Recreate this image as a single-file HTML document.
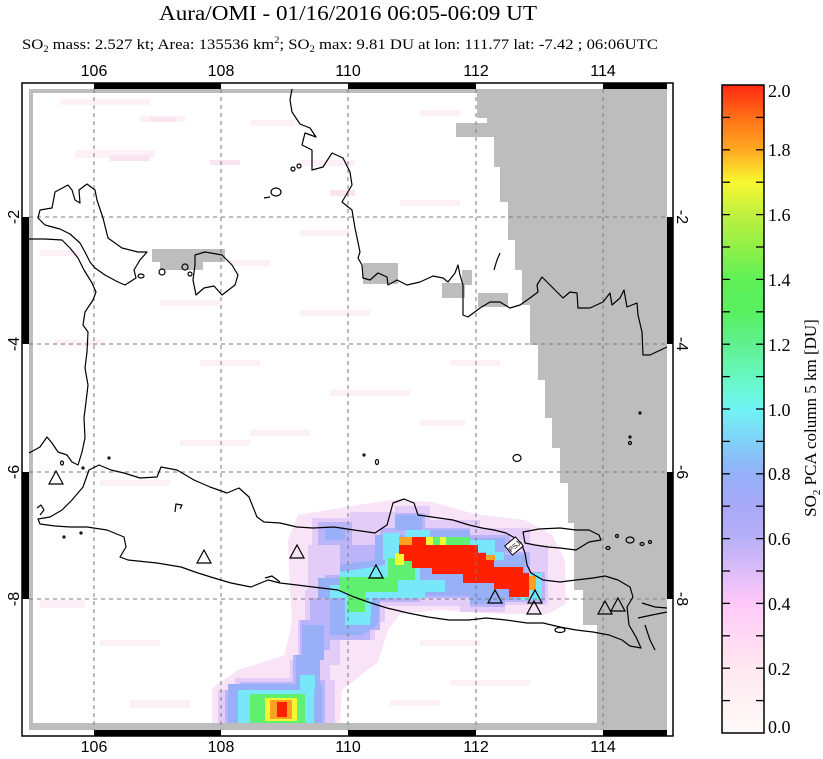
<!DOCTYPE html>
<html><head><meta charset="utf-8"><style>
html,body{margin:0;padding:0;background:#fff;}
svg{display:block;}
</style></head><body>
<svg width="823" height="759" viewBox="0 0 823 759" xmlns="http://www.w3.org/2000/svg">
<defs>
<linearGradient id="cb" x1="0" y1="1" x2="0" y2="0">
<stop offset="0" stop-color="#fffafa"/>
<stop offset="0.1" stop-color="#ffe8f0"/>
<stop offset="0.2" stop-color="#ffc8f8"/>
<stop offset="0.25" stop-color="#dcbcf8"/>
<stop offset="0.3" stop-color="#b8b0f8"/>
<stop offset="0.35" stop-color="#a8a8f8"/>
<stop offset="0.4" stop-color="#94b0f8"/>
<stop offset="0.45" stop-color="#80d0f8"/>
<stop offset="0.5" stop-color="#70f4f4"/>
<stop offset="0.55" stop-color="#68f8c0"/>
<stop offset="0.6" stop-color="#60f090"/>
<stop offset="0.65" stop-color="#58f060"/>
<stop offset="0.7" stop-color="#60f058"/>
<stop offset="0.75" stop-color="#90f048"/>
<stop offset="0.8" stop-color="#c0f040"/>
<stop offset="0.85" stop-color="#f8f830"/>
<stop offset="0.9" stop-color="#ffa820"/>
<stop offset="0.95" stop-color="#ff7018"/>
<stop offset="1" stop-color="#ff2810"/>
</linearGradient>
</defs>

<!-- Title -->
<text x="348" y="20" text-anchor="middle" font-family="Liberation Serif, serif" font-size="21" textLength="378" lengthAdjust="spacingAndGlyphs">Aura/OMI - 01/16/2016 06:05-06:09 UT</text>
<text x="22" y="49" font-family="Liberation Serif, serif" font-size="14.5" textLength="636" lengthAdjust="spacingAndGlyphs">SO<tspan font-size="9" dy="3">2</tspan><tspan dy="-3"> mass: 2.527 kt; Area: 135536 km</tspan><tspan font-size="9" dy="-6">2</tspan><tspan dy="6">; SO</tspan><tspan font-size="9" dy="3">2</tspan><tspan dy="-3"> max: 9.81 DU at lon: 111.77 lat: -7.42 ; 06:06UTC</tspan></text>

<!-- Map background -->
<rect x="29" y="89" width="638" height="641" fill="#bdbdbd"/>
<rect x="33" y="93" width="634" height="630" fill="#ffffff"/>

<!-- faint pink streaks -->
<g fill="#fdf0f6">
<rect x="60" y="99" width="90" height="6"/><rect x="140" y="116" width="45" height="6"/>
<rect x="75" y="150" width="80" height="8"/><rect x="250" y="120" width="45" height="6"/>
<rect x="300" y="160" width="55" height="6"/><rect x="400" y="200" width="60" height="6"/>
<rect x="160" y="300" width="60" height="6"/><rect x="300" y="310" width="70" height="6"/>
<rect x="55" y="340" width="50" height="6"/><rect x="200" y="360" width="60" height="6"/>
<rect x="330" y="390" width="80" height="6"/><rect x="250" y="430" width="60" height="6"/>
<rect x="420" y="420" width="45" height="6"/><rect x="100" y="480" width="70" height="6"/>
<rect x="180" y="440" width="70" height="6"/><rect x="450" y="360" width="50" height="6"/>
<rect x="40" y="600" width="45" height="8"/><rect x="420" y="640" width="60" height="6"/>
<rect x="450" y="680" width="80" height="6"/><rect x="100" y="640" width="60" height="6"/>
<rect x="130" y="700" width="60" height="8"/><rect x="390" y="700" width="50" height="6"/>
<rect x="40" y="250" width="40" height="6"/><rect x="300" y="230" width="50" height="6"/>
<rect x="420" y="110" width="40" height="6"/><rect x="230" y="260" width="40" height="6"/>
</g>
<g fill="#fae4f0">
<rect x="110" y="155" width="40" height="6"/><rect x="150" y="117" width="25" height="5"/>
<rect x="330" y="190" width="25" height="6"/><rect x="210" y="160" width="30" height="5"/>
</g>

<!-- Gray no-data regions -->
<g fill="#bdbdbd">
<polygon points="477,89 667,89 667,730 597,730 597,625 583,625 583,590 574,590 574,523 568,523 568,483 560,483 560,448 552,448 552,418 545,418 545,380 538,380 538,345 530,345 530,305 522,305 522,270 515,270 515,240 508,240 508,202 500,202 500,167 494,167 494,137 487,137 487,118 477,118"/>
<rect x="456" y="123" width="31" height="14"/>
<rect x="152" y="249" width="73" height="13"/>
<rect x="160" y="262" width="43" height="8"/>
<rect x="363" y="263" width="35" height="21"/>
<rect x="462" y="270" width="10" height="15"/>
<rect x="442" y="283" width="23" height="15"/>
<rect x="478" y="293" width="30" height="14"/>
</g>

<!-- Plume layers -->
<polygon fill="#f8e4f6" points="298,515 340,508 390,500 432,502 475,514 525,520 552,535 565,560 566,604 548,614 500,614 440,610 400,614 388,630 378,662 342,690 340,723 212,723 212,688 238,670 285,655 292,620 290,590 288,540"/>
<polygon fill="#e4ccf8" points="312,518 350,518 350,512 395,512 395,506 430,506 430,520 480,520 480,528 530,528 530,545 548,545 548,605 505,605 505,612 460,612 460,606 385,606 385,622 375,622 375,640 340,640 340,665 330,665 330,680 335,680 335,723 218,723 218,690 235,690 235,678 290,678 290,660 298,660 298,620 305,620 305,590 308,590 308,545 312,545"/>
<rect x="318" y="522" width="34" height="23" fill="#bcb4f8"/>
<polygon fill="#bcb4f8" points="340,545 380,545 380,528 395,528 395,513 425,513 425,528 470,528 470,535 510,535 510,552 530,552 530,572 545,572 545,602 505,602 505,607 470,607 470,598 420,598 420,602 380,602 380,630 370,630 370,640 330,640 330,650 320,650 320,680 325,680 325,723 225,723 225,690 240,690 240,682 293,682 293,655 300,655 300,620 310,620 310,598 325,598 325,575 340,575"/>
<g fill="#98b0f8">
<rect x="395" y="515" width="27" height="15"/>
<rect x="325" y="527" width="20" height="13"/>
<polygon points="375,535 420,535 420,530 470,530 470,538 505,538 505,555 525,555 525,572 540,572 540,600 505,600 505,604 470,604 470,596 420,596 380,600 378,625 362,635 330,635 330,598 318,598 318,578 340,578 340,565 375,560"/>
<rect x="302" y="625" width="22" height="35"/>
<rect x="296" y="655" width="24" height="30"/>
<rect x="228" y="684" width="94" height="39"/>
</g>
<g fill="#78e8f8">
<rect x="383" y="533" width="17" height="27"/>
<rect x="405" y="530" width="25" height="8"/>
<polygon points="340,572 385,565 385,560 420,560 420,580 445,580 445,592 425,592 425,598 372,598 370,625 345,625 345,598 330,598 330,585 340,585"/>
<rect x="470" y="540" width="25" height="12"/>
<rect x="486" y="552" width="18" height="8"/>
<rect x="520" y="573" width="22" height="27"/>
<rect x="238" y="690" width="76" height="33"/>
<rect x="300" y="675" width="15" height="15"/>
</g>
<g fill="#60f070">
<rect x="340" y="577" width="58" height="15"/>
<rect x="348" y="590" width="17" height="22"/>
<rect x="388" y="558" width="27" height="22"/>
<rect x="426" y="537" width="44" height="8"/>
<rect x="250" y="694" width="55" height="29"/>
<rect x="350" y="583" width="12" height="22"/>
</g>
<g fill="#f0f830">
<rect x="426" y="537" width="7" height="8"/>
<rect x="395" y="553" width="9" height="12"/>
<rect x="265" y="698" width="32" height="23"/>
<rect x="440" y="537" width="6" height="8"/>
</g>
<g fill="#ffa020">
<rect x="399" y="537" width="13" height="8"/>
<rect x="527" y="576" width="9" height="14"/>
<rect x="270" y="700" width="22" height="19"/>
<rect x="486" y="555" width="9" height="6"/>
</g>
<g fill="#ff2000">
<rect x="412" y="537" width="14" height="9"/>
<rect x="399" y="545" width="79" height="9"/>
<rect x="404" y="553" width="82" height="8"/>
<rect x="412" y="560" width="82" height="8"/>
<rect x="432" y="567" width="91" height="7"/>
<rect x="463" y="573" width="66" height="10"/>
<rect x="494" y="582" width="35" height="7"/>
<rect x="509" y="588" width="20" height="9"/>
<rect x="277" y="702" width="10" height="15"/>
</g>

<!-- Grid lines -->
<g stroke="#7a7a7a" stroke-width="1" stroke-dasharray="4 4" fill="none">
<line x1="94" y1="89" x2="94" y2="730"/>
<line x1="221" y1="89" x2="221" y2="730"/>
<line x1="348" y1="89" x2="348" y2="730"/>
<line x1="476" y1="89" x2="476" y2="730"/>
<line x1="603" y1="89" x2="603" y2="730"/>
<line x1="29" y1="217" x2="667" y2="217"/>
<line x1="29" y1="344" x2="667" y2="344"/>
<line x1="29" y1="472" x2="667" y2="472"/>
<line x1="29" y1="599" x2="667" y2="599"/>
</g>

<!-- Coastlines -->
<g stroke="#000" stroke-width="1.2" fill="none" stroke-linejoin="round">
<polygon points="38,218 40,210 52,208 55,192 68,185 72,190 75,200 80,203 79,190 87,184 95,190 97,200 103,218 108,238 122,248 138,252 147,252 140,260 134,270 136,278 125,285 118,282 105,275 95,268 90,262 85,252 80,243 70,234 60,229 45,225"/>
<polyline points="29,239 45,239 62,240 70,248 78,258 84,270 92,283 96,292 93,300 85,312 83,325 88,332 87,352 85,368 88,385 86,402 84,418 85,438 82,452 78,465 72,462 67,455 58,452 52,443 47,437 40,447 29,453"/>
<polygon points="195,255 205,252 222,255 232,265 238,275 235,285 222,295 214,286 204,288 196,295 193,280 195,265"/>
<ellipse cx="162" cy="272" rx="3" ry="3"/>
<ellipse cx="141" cy="276" rx="3" ry="2"/>
<ellipse cx="185" cy="267" rx="3" ry="3"/>
<ellipse cx="190" cy="274" rx="2" ry="2"/>
<polyline points="292,89 290,100 292,112 300,124 310,128 316,137 305,133 302,145 312,150 312,170 323,167 332,153 343,158 350,172 352,185 342,202 352,210 355,228 360,252 358,258 362,265 363,278 370,280 378,273 387,277 388,285 397,280 407,285 420,282 433,276 443,278 448,282 455,273 458,265 460,275 463,285 463,315 468,317 480,308 490,302 500,302 510,308 520,305 530,298 538,292 537,285 542,277 547,282 557,292 563,298 570,292 577,293 578,308 590,308 603,302 610,293 612,305 620,298 624,290 627,307 637,303 638,315 642,332 643,355 650,355 667,347"/>
<ellipse cx="276" cy="192" rx="5" ry="4"/>
<line x1="264" y1="198" x2="270" y2="197"/>
<ellipse cx="293" cy="169" rx="2" ry="2"/>
<ellipse cx="299" cy="166" rx="2" ry="2"/>
<polyline points="494,270 497,260 500,253"/>
<polygon points="38,519 50,517 62,510 72,500 83,487 89,470 99,465 111,470 124,473 140,478 157,477 161,467 177,470 194,480 210,487 227,493 239,488 249,497 257,517 264,522 280,523 297,527 313,528 334,527 354,530 375,533 387,525 393,503 404,499 414,503 418,515 432,517 453,520 469,525 482,528 494,530 506,533 515,538 521,543 525,553 527,565 531,573 543,580 560,582 576,580 593,578 605,576 618,580 630,587 633,597 627,607 629,625 636,637 641,648 630,646 622,640 609,635 593,632 576,630 560,627 543,623 527,623 506,620 486,618 469,620 449,620 428,617 408,613 387,608 371,603 354,597 338,590 313,587 297,585 280,583 268,580 251,587 231,583 214,578 198,573 181,567 157,563 128,560 120,557 126,547 124,537 107,530 87,527 70,527 55,526 40,524"/>
<polyline points="265,578 272,576 280,582"/>
<polygon points="523,532 539,529 560,528 576,530 589,530 599,535 601,540 589,542 576,550 560,548 548,547 535,545 525,543"/>
<polyline points="642,603 655,607 667,608"/>
<polyline points="638,618 652,615 667,612"/>
<polyline points="645,625 650,640 655,650"/>
<ellipse cx="517" cy="458" rx="4" ry="3.5"/>
<ellipse cx="377" cy="462" rx="1.5" ry="2.5"/>
<ellipse cx="364" cy="455" rx="1" ry="1"/>
<ellipse cx="62" cy="463" rx="1.5" ry="2"/>
<ellipse cx="83" cy="468" rx="1" ry="1"/>
<ellipse cx="109" cy="458" rx="1" ry="1"/>
<polyline points="175,512 176,504 182,505 180,509"/>
<ellipse cx="64" cy="537" rx="1" ry="1"/>
<ellipse cx="81" cy="533" rx="1" ry="1"/>
<polyline points="37,508 41,505 44,510 40,515"/>
<ellipse cx="617" cy="536" rx="1.5" ry="1.5"/>
<ellipse cx="630" cy="540" rx="4" ry="3"/>
<ellipse cx="642" cy="544" rx="2" ry="1.5"/>
<ellipse cx="650" cy="542" rx="1.5" ry="1.5"/>
<ellipse cx="608" cy="548" rx="2" ry="1.5"/>
<ellipse cx="640" cy="413" rx="1" ry="1"/>
<ellipse cx="630" cy="437" rx="1" ry="1"/>
<ellipse cx="630" cy="443" rx="1.5" ry="1.5"/>
<ellipse cx="560" cy="630" rx="5" ry="2.5"/>
</g>

<g transform="translate(514,546) rotate(-40)">
<rect x="-7" y="-6" width="14" height="12" fill="#fff" stroke="#000" stroke-width="1"/>
<text x="0" y="3" text-anchor="middle" font-family="Liberation Sans, sans-serif" font-size="7">PSJ</text>
</g>

<g stroke="#000" stroke-width="1.2" fill="none">
<path d="M49,484 L56,471 L63,484 Z"/>
<path d="M197,563 L204,550 L211,563 Z"/>
<path d="M290,558 L297,545 L304,558 Z"/>
<path d="M369,578 L376,565 L383,578 Z"/>
<path d="M488,603 L495,590 L502,603 Z"/>
<path d="M528,603 L535,590 L542,603 Z"/>
<path d="M527,614 L534,601 L541,614 Z"/>
<path d="M598,614 L605,601 L612,614 Z"/>
<path d="M611,611 L618,598 L625,611 Z"/>
</g>

<!-- Frame -->
<rect x="22" y="83" width="651" height="653" fill="none" stroke="#000" stroke-width="1.5"/>
<g fill="#000">
<rect x="94" y="83" width="127" height="6"/>
<rect x="348" y="83" width="128" height="6"/>
<rect x="603" y="83" width="64" height="6"/>
<rect x="94" y="730" width="127" height="6"/>
<rect x="348" y="730" width="128" height="6"/>
<rect x="603" y="730" width="64" height="6"/>
<rect x="22" y="217" width="7" height="127"/>
<rect x="22" y="472" width="7" height="127"/>
<rect x="667" y="217" width="6" height="127"/>
<rect x="667" y="472" width="6" height="127"/>
</g>

<g font-family="Liberation Sans, sans-serif" font-size="16" text-anchor="middle">
<text x="94" y="76">106</text><text x="221" y="76">108</text><text x="348" y="76">110</text><text x="476" y="76">112</text><text x="603" y="76">114</text>
<text x="94" y="752">106</text><text x="221" y="752">108</text><text x="348" y="752">110</text><text x="476" y="752">112</text><text x="603" y="752">114</text>
</g>
<g font-family="Liberation Sans, sans-serif" font-size="16" text-anchor="middle">
<text transform="translate(19,217) rotate(-90)">-2</text>
<text transform="translate(19,344) rotate(-90)">-4</text>
<text transform="translate(19,472) rotate(-90)">-6</text>
<text transform="translate(19,599) rotate(-90)">-8</text>
<text transform="translate(677,217) rotate(90)">-2</text>
<text transform="translate(677,344) rotate(90)">-4</text>
<text transform="translate(677,472) rotate(90)">-6</text>
<text transform="translate(677,599) rotate(90)">-8</text>
</g>

<!-- Colorbar -->
<rect x="722" y="85" width="42" height="648" fill="url(#cb)" stroke="#000" stroke-width="1.5"/>
<g stroke="#000" stroke-width="1.3">
<line x1="722" y1="700.6" x2="730" y2="700.6"/><line x1="756" y1="700.6" x2="764" y2="700.6"/>
<line x1="722" y1="668.2" x2="730" y2="668.2"/><line x1="756" y1="668.2" x2="764" y2="668.2"/>
<line x1="722" y1="635.8" x2="730" y2="635.8"/><line x1="756" y1="635.8" x2="764" y2="635.8"/>
<line x1="722" y1="603.4" x2="730" y2="603.4"/><line x1="756" y1="603.4" x2="764" y2="603.4"/>
<line x1="722" y1="571" x2="730" y2="571"/><line x1="756" y1="571" x2="764" y2="571"/>
<line x1="722" y1="538.6" x2="730" y2="538.6"/><line x1="756" y1="538.6" x2="764" y2="538.6"/>
<line x1="722" y1="506.2" x2="730" y2="506.2"/><line x1="756" y1="506.2" x2="764" y2="506.2"/>
<line x1="722" y1="473.8" x2="730" y2="473.8"/><line x1="756" y1="473.8" x2="764" y2="473.8"/>
<line x1="722" y1="441.4" x2="730" y2="441.4"/><line x1="756" y1="441.4" x2="764" y2="441.4"/>
<line x1="722" y1="409" x2="730" y2="409"/><line x1="756" y1="409" x2="764" y2="409"/>
<line x1="722" y1="376.6" x2="730" y2="376.6"/><line x1="756" y1="376.6" x2="764" y2="376.6"/>
<line x1="722" y1="344.2" x2="730" y2="344.2"/><line x1="756" y1="344.2" x2="764" y2="344.2"/>
<line x1="722" y1="311.8" x2="730" y2="311.8"/><line x1="756" y1="311.8" x2="764" y2="311.8"/>
<line x1="722" y1="279.4" x2="730" y2="279.4"/><line x1="756" y1="279.4" x2="764" y2="279.4"/>
<line x1="722" y1="247" x2="730" y2="247"/><line x1="756" y1="247" x2="764" y2="247"/>
<line x1="722" y1="214.6" x2="730" y2="214.6"/><line x1="756" y1="214.6" x2="764" y2="214.6"/>
<line x1="722" y1="182.2" x2="730" y2="182.2"/><line x1="756" y1="182.2" x2="764" y2="182.2"/>
<line x1="722" y1="149.8" x2="730" y2="149.8"/><line x1="756" y1="149.8" x2="764" y2="149.8"/>
<line x1="722" y1="117.4" x2="730" y2="117.4"/><line x1="756" y1="117.4" x2="764" y2="117.4"/>
</g>
<g font-family="Liberation Serif, serif" font-size="18">
<text x="768" y="97">2.0</text>
<text x="768" y="156">1.8</text>
<text x="768" y="221">1.6</text>
<text x="768" y="286">1.4</text>
<text x="768" y="351">1.2</text>
<text x="768" y="416">1.0</text>
<text x="768" y="480">0.8</text>
<text x="768" y="545">0.6</text>
<text x="768" y="610">0.4</text>
<text x="768" y="675">0.2</text>
<text x="768" y="733">0.0</text>
</g>
<text transform="translate(816,418) rotate(-90)" text-anchor="middle" font-family="Liberation Serif, serif" font-size="17">SO<tspan font-size="11" dy="4">2</tspan><tspan dy="-4"> PCA column 5 km [DU]</tspan></text>
</svg>
</body></html>
